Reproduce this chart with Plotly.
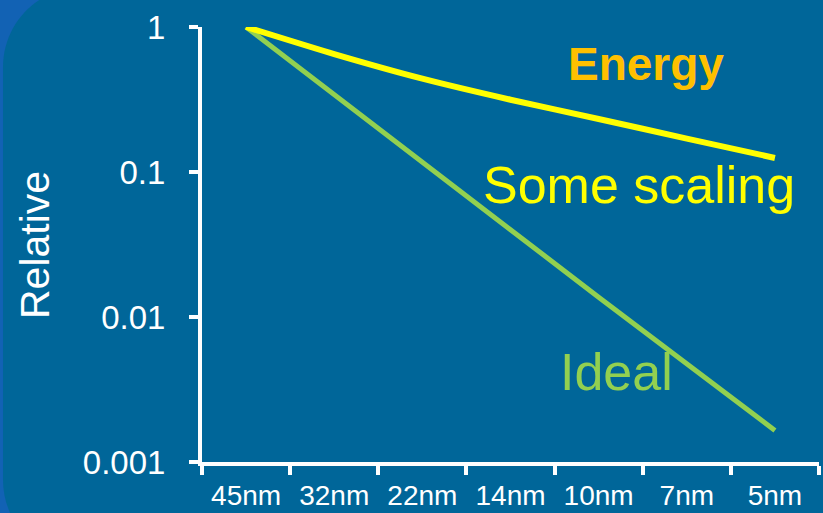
import plotly.graph_objects as go

# ---- data ----
nodes = ["45nm", "32nm", "22nm", "14nm", "10nm", "7nm", "5nm"]
some_scaling = [1.0, 0.65, 0.44, 0.315, 0.232, 0.17, 0.125]
ideal = [1.0, 0.34, 0.117, 0.040, 0.0137, 0.0047, 0.00165]
y_tickvals = [0.001, 0.01, 0.1, 1]
y_ticktext = ["0.001", "0.01", "0.1", "1"]

# ---- layout constants ----
W, H = 823, 513
ML, MR, MT, MB = 202, 4, 27, 51
PW, PH = W - ML - MR, H - MT - MB
FONT = "Liberation Sans, Arial, sans-serif"
BG = "#006699"
OUTER = "#1262b4"
WHITE = "white"


def px(x, y):
    return (x - ML) / PW, (H - MB - y) / PH


def pt(x, y):
    a, b = px(x, y)
    return f"{a:.5f},{b:.5f}"


# rounded slide panel (decoration)
r, k = 80, 0.5523
x0, y0, x1, y1 = 3, -13, 840, 560
path = (
    f"M {pt(x0 + r, y0)} L {pt(x1, y0)} L {pt(x1, y1)} L {pt(x0 + r, y1)} "
    f"C {pt(x0 + r - k * r, y1)} {pt(x0, y1 - r + k * r)} {pt(x0, y1 - r)} "
    f"L {pt(x0, y0 + r)} "
    f"C {pt(x0, y0 + r - k * r)} {pt(x0 + r - k * r, y0)} {pt(x0 + r, y0)} Z"
)

fig = go.Figure()
fig.add_trace(go.Scatter(
    x=nodes, y=ideal, mode="lines",
    line=dict(color="#92D050", width=5), cliponaxis=False,
    showlegend=False, hoverinfo="skip"))
fig.add_trace(go.Scatter(
    x=nodes, y=some_scaling, mode="lines",
    line=dict(color="#FFFF00", width=6, shape="spline", smoothing=0.6),
    cliponaxis=False, showlegend=False, hoverinfo="skip"))

annots = []
def ann(text, x, y, size, color, bold=False, angle=0):
    ax, ay = px(x, y)
    annots.append(dict(
        text=f"<b>{text}</b>" if bold else text, x=ax, y=ay,
        xref="paper", yref="paper", showarrow=False,
        xanchor="center", yanchor="middle", textangle=angle,
        font=dict(family=FONT, size=size, color=color)))

ann("Energy", 646, 64, 46, "#FFC000", bold=True)
ann("Some scaling", 639, 185, 52, "#FFFF00")
ann("Ideal", 616, 372, 52, "#92D050")
ann("Relative", 35, 245, 41, WHITE, angle=-90)

fig.update_layout(
    width=W, height=H,
    margin=dict(l=ML, r=MR, t=MT, b=MB, pad=0, autoexpand=False),
    paper_bgcolor=OUTER, plot_bgcolor="rgba(0,0,0,0)",
    shapes=[dict(type="path", path=path, xref="paper", yref="paper",
                 fillcolor=BG, line=dict(width=0), layer="below")],
    annotations=annots,
    xaxis=dict(
        type="category", range=[-0.5, len(nodes) - 0.5],
        tickson="boundaries", ticks="outside", ticklen=9, tickwidth=4,
        tickcolor=WHITE, showline=True, linewidth=4, linecolor=WHITE,
        showgrid=False, zeroline=False, ticklabelstandoff=5,
        tickangle=0, automargin=False,
        tickfont=dict(family=FONT, size=28, color=WHITE)),
    yaxis=dict(
        type="log", range=[-3, 0], tickvals=y_tickvals, ticktext=y_ticktext,
        ticks="outside", ticklen=9, tickwidth=4, tickcolor=WHITE,
        showline=True, linewidth=4, linecolor=WHITE, automargin=False,
        showgrid=False, zeroline=False, ticklabelstandoff=17,
        tickfont=dict(family=FONT, size=33, color=WHITE)),
)

fig.write_html(
    "out.html",
    config={"displayModeBar": False},
    post_script="document.body.style.margin='0';document.body.style.background='%s';" % OUTER,
)
